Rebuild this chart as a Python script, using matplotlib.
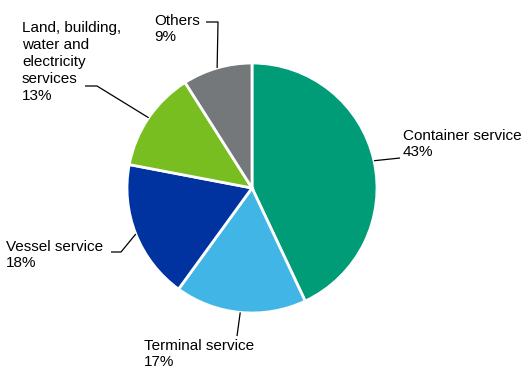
import numpy as np
import matplotlib
matplotlib.use('Agg')
import matplotlib.pyplot as plt

plt.rcParams['font.family'] = ['Liberation Sans', 'DejaVu Sans']

# Data
categories = ['Container service', 'Terminal service', 'Vessel service',
              'Land, building,\nwater and\nelectricity\nservices', 'Others']
shares = [43, 17, 18, 13, 9]
colors = ['#009b77', '#41b6e6', '#0033a0', '#78be20', '#75787b']

# Layout in pixels (x, y from top): text anchor, elbow, line end
text_pos = [(403, 144), (144, 354), (6, 255), (22, 62), (154, 29)]
elbows = [(400, 158), (237, 336), (121, 252), (97, 86), (218, 22)]
ends = [(400, 158), (237, 336), (111, 252), (85, 86), (206, 22)]

W, H = 524, 368
cx, cy, r = 252, 180, 125

fig = plt.figure(figsize=(W/100, H/100), dpi=100)
ax = fig.add_axes([0, 0, 1, 1])

wedges, _ = ax.pie(shares, colors=colors, startangle=90, counterclock=False,
                   center=(cx, cy), radius=r, frame=True,
                   wedgeprops=dict(edgecolor='white', linewidth=2))
ax.set_xlim(0, W)
ax.set_ylim(0, H)
ax.set_aspect('equal')
ax.axis('off')

for w, lab, val, tp, el, en in zip(wedges, categories, shares, text_pos,
                                   elbows, ends):
    ang = np.deg2rad((w.theta1 + w.theta2) / 2)
    x0, y0 = cx + r*np.cos(ang), cy + r*np.sin(ang)
    ax.plot([x0, el[0], en[0]], [y0, H - el[1], H - en[1]], color='black',
            lw=0.9, solid_capstyle='butt')
    ax.text(tp[0], H - tp[1], f'{lab}\n{val}%', ha='left', va='center',
            fontsize=11, linespacing=1.27)

fig.savefig('out.png', dpi=100)
